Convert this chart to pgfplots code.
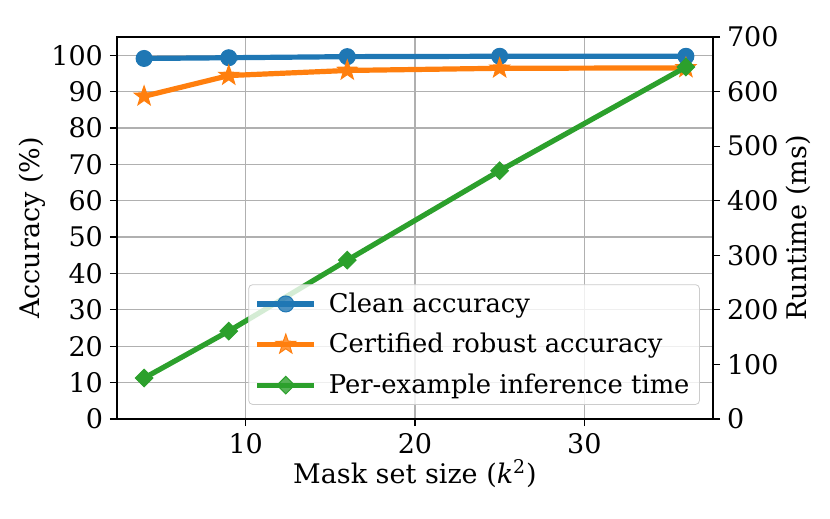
\documentclass[border=0pt]{standalone}
\usepackage{fontspec}
\setmainfont{DejaVu Serif}
\usepackage{pgfplots}
\pgfplotsset{compat=1.18}
\usetikzlibrary{plotmarks}

\definecolor{tabblue}{HTML}{1F77B4}
\definecolor{taborange}{HTML}{FF7F0E}
\definecolor{tabgreen}{HTML}{2CA02C}
\definecolor{gridgray}{HTML}{B0B0B0}

% filled five-pointed star, like matplotlib '*'
\pgfdeclareplotmark{fstar}{%
  \pgfpathmoveto{\pgfpointpolar{90}{\pgfplotmarksize}}%
  \pgfpathlineto{\pgfpointpolar{126}{0.4\pgfplotmarksize}}%
  \pgfpathlineto{\pgfpointpolar{162}{\pgfplotmarksize}}%
  \pgfpathlineto{\pgfpointpolar{198}{0.4\pgfplotmarksize}}%
  \pgfpathlineto{\pgfpointpolar{234}{\pgfplotmarksize}}%
  \pgfpathlineto{\pgfpointpolar{270}{0.4\pgfplotmarksize}}%
  \pgfpathlineto{\pgfpointpolar{306}{\pgfplotmarksize}}%
  \pgfpathlineto{\pgfpointpolar{342}{0.4\pgfplotmarksize}}%
  \pgfpathlineto{\pgfpointpolar{18}{\pgfplotmarksize}}%
  \pgfpathlineto{\pgfpointpolar{54}{0.4\pgfplotmarksize}}%
  \pgfpathclose\pgfusepathqfillstroke}
% square diamond, like matplotlib 'D'
\pgfdeclareplotmark{fdiamond}{%
  \pgfpathmoveto{\pgfqpoint{0pt}{\pgfplotmarksize}}%
  \pgfpathlineto{\pgfqpoint{\pgfplotmarksize}{0pt}}%
  \pgfpathlineto{\pgfqpoint{0pt}{-\pgfplotmarksize}}%
  \pgfpathlineto{\pgfqpoint{-\pgfplotmarksize}{0pt}}%
  \pgfpathclose\pgfusepathqfillstroke}

\newcommand{\fs}{\fontsize{13.5}{15.5}\selectfont}

\pgfplotsset{
  twin/.style={
    scale only axis, width=298pt, height=191pt,
    xmin=2.4, xmax=37.6,
    tick align=outside, major tick length=3.5pt,
    tick style={black, line width=0.6pt},
    axis line style={line width=0.8pt},
    /pgf/number format/assume math mode=true,
    ticklabel style={font=\fs},
    label style={font=\fs},
  },
  ser/.style={#1, line width=2.6pt, mark options={solid, fill=#1, draw=#1, line width=0.5pt}},
}

\begin{document}
\begin{tikzpicture}
\begin{axis}[twin, name=ax,
  ymin=0, ymax=105, ytick={0,10,...,100},
  xtick={10,20,30}, xtick pos=bottom, ytick pos=left,
  grid=major, grid style={gridgray, line width=0.6pt},
  xlabel={Mask set size (\textit{k}\textsuperscript{2})},
  ylabel={Accuracy (\%)},
  ylabel style={yshift=-4pt},
  xlabel style={yshift=4pt},
]
\addplot[ser=tabblue, mark=*, mark size=4pt] coordinates {(4,99.1) (9,99.3) (16,99.6) (25,99.7) (36,99.7)};
\addplot[ser=taborange, mark=fstar, mark size=5.2pt] coordinates {(4,88.7) (9,94.4) (16,95.8) (25,96.4) (36,96.5)};
\end{axis}
\begin{axis}[twin,
  ymin=0, ymax=700, ytick={0,100,...,700},
  xtick=\empty, ytick pos=right, yticklabel pos=right,
  ylabel={Runtime (ms)},
  ylabel style={yshift=3pt},
  legend cell align=left,
  legend style={at={(0.978,0.037)}, anchor=south east,
    font=\fontsize{12.9}{14.5}\selectfont,
    fill=white, fill opacity=0.8, text opacity=1, draw opacity=1,
    draw=gray!40, rounded corners=2pt, inner xsep=3pt, inner ysep=2pt,
    row sep=5pt, column sep=4pt},
  legend image code/.code={\draw[mark repeat=2, mark phase=2] plot coordinates {(0pt,0pt) (14.25pt,0pt) (28.5pt,0pt)};},
]
\addlegendimage{ser=tabblue, mark=*, mark size=4pt}
\addlegendentry{Clean accuracy}
\addlegendimage{ser=taborange, mark=fstar, mark size=5.2pt}
\addlegendentry{Certified robust accuracy}
\addplot[ser=tabgreen, mark=fdiamond, mark size=4.4pt] coordinates {(4,75) (9,161) (16,291) (25,455) (36,645)};
\addlegendentry{Per-example inference time}
\end{axis}
\path ([xshift=-58.5pt, yshift=-50pt]ax.south west) rectangle ([xshift=58.5pt, yshift=18.5pt]ax.north east);
\end{tikzpicture}
\end{document}
